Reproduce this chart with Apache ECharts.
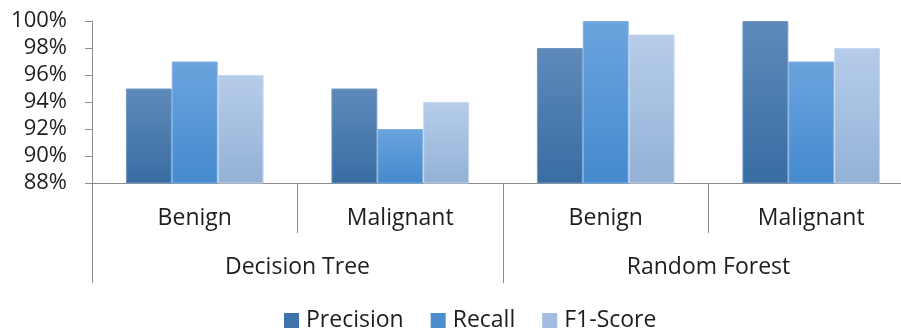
<!DOCTYPE html>
<html>
<head>
<meta charset="utf-8">
<script src="https://cdn.jsdelivr.net/npm/echarts@6/dist/echarts.min.js"></script>
<style>
  html, body { margin: 0; padding: 0; background: #fff; }
  #chart { width: 901px; height: 329px; }
</style>
</head>
<body>
<div id="chart"></div>
<script>
// Classifier scores per class, grouped by model (percent)
const models = ['Decision Tree', 'Random Forest'];
const classes = ['Benign', 'Malignant', 'Benign', 'Malignant'];
const metricNames = ['Precision', 'Recall', 'F1-Score'];
const precision = [95, 95, 98, 100];
const recall = [97, 92, 100, 97];
const f1Score = [96, 94, 99, 98];
const yTicks = { min: 88, max: 100, step: 2 };

const FONT = 'Open Sans';
const AXIS_GRAY = '#8c8c8c';
const TEXT = '#1e1e1e';

function grad(top, bottom) {
  return new echarts.graphic.LinearGradient(0, 0, 0, 1, [
    { offset: 0, color: top },
    { offset: 1, color: bottom }
  ]);
}

const fills = [
  grad('#5e8aba', '#386da2'),
  grad('#6ba4de', '#448ace'),
  grad('#b6cdea', '#93b1d6')
];
const swatch = ['#3f73a9', '#4a8ed0', '#a3bde2'];
const edges = ['#7399c2', '#7fb1e3', '#c6d8ef'];
const values = [precision, recall, f1Score];

const chart = echarts.init(document.getElementById('chart'), null, { renderer: 'canvas' });

chart.setOption({
  animation: false,
  textStyle: { fontFamily: FONT },
  grid: { left: 92, top: 21, height: 162, width: 822, containLabel: false, outerBoundsMode: 'none' },
  legend: {
    left: 284,
    top: 309,
    padding: 0,
    icon: 'rect',
    itemWidth: 15,
    itemHeight: 15,
    itemGap: 27,
    textStyle: { fontFamily: FONT, fontSize: 23, color: TEXT, padding: [0, 0, 0, 2] },
    data: metricNames.map((n, i) => ({ name: n, itemStyle: { color: swatch[i], borderWidth: 0 } }))
  },
  xAxis: [
    {
      type: 'category',
      position: 'bottom',
      data: classes,
      axisLine: { show: true, lineStyle: { color: AXIS_GRAY, width: 1 } },
      axisTick: { show: true, interval: 0, length: 50, lineStyle: { color: AXIS_GRAY } },
      axisLabel: { interval: 0, margin: 24, fontFamily: FONT, fontSize: 23, color: TEXT },
      splitLine: { show: false }
    },
    {
      type: 'category',
      position: 'bottom',
      data: models,
      axisLine: { show: false },
      axisTick: { show: true, interval: 0, length: 100, lineStyle: { color: AXIS_GRAY } },
      axisLabel: { interval: 0, margin: 73, fontFamily: FONT, fontSize: 23, color: TEXT },
      splitLine: { show: false }
    }
  ],
  yAxis: {
    type: 'value',
    min: yTicks.min,
    max: yTicks.max,
    interval: yTicks.step,
    axisLine: { show: true, lineStyle: { color: AXIS_GRAY } },
    axisTick: { show: true, length: 7, lineStyle: { color: AXIS_GRAY } },
    axisLabel: { margin: 25, fontFamily: FONT, fontSize: 22, color: TEXT, formatter: '{value}%' },
    splitLine: { show: false }
  },
  series: metricNames.map((name, i) => ({
    name: name,
    type: 'bar',
    xAxisIndex: 0,
    data: values[i],
    barGap: '0%',
    barCategoryGap: '33%',
    itemStyle: { color: fills[i], borderColor: edges[i], borderWidth: 1 }
  }))
});
</script>
</body>
</html>
